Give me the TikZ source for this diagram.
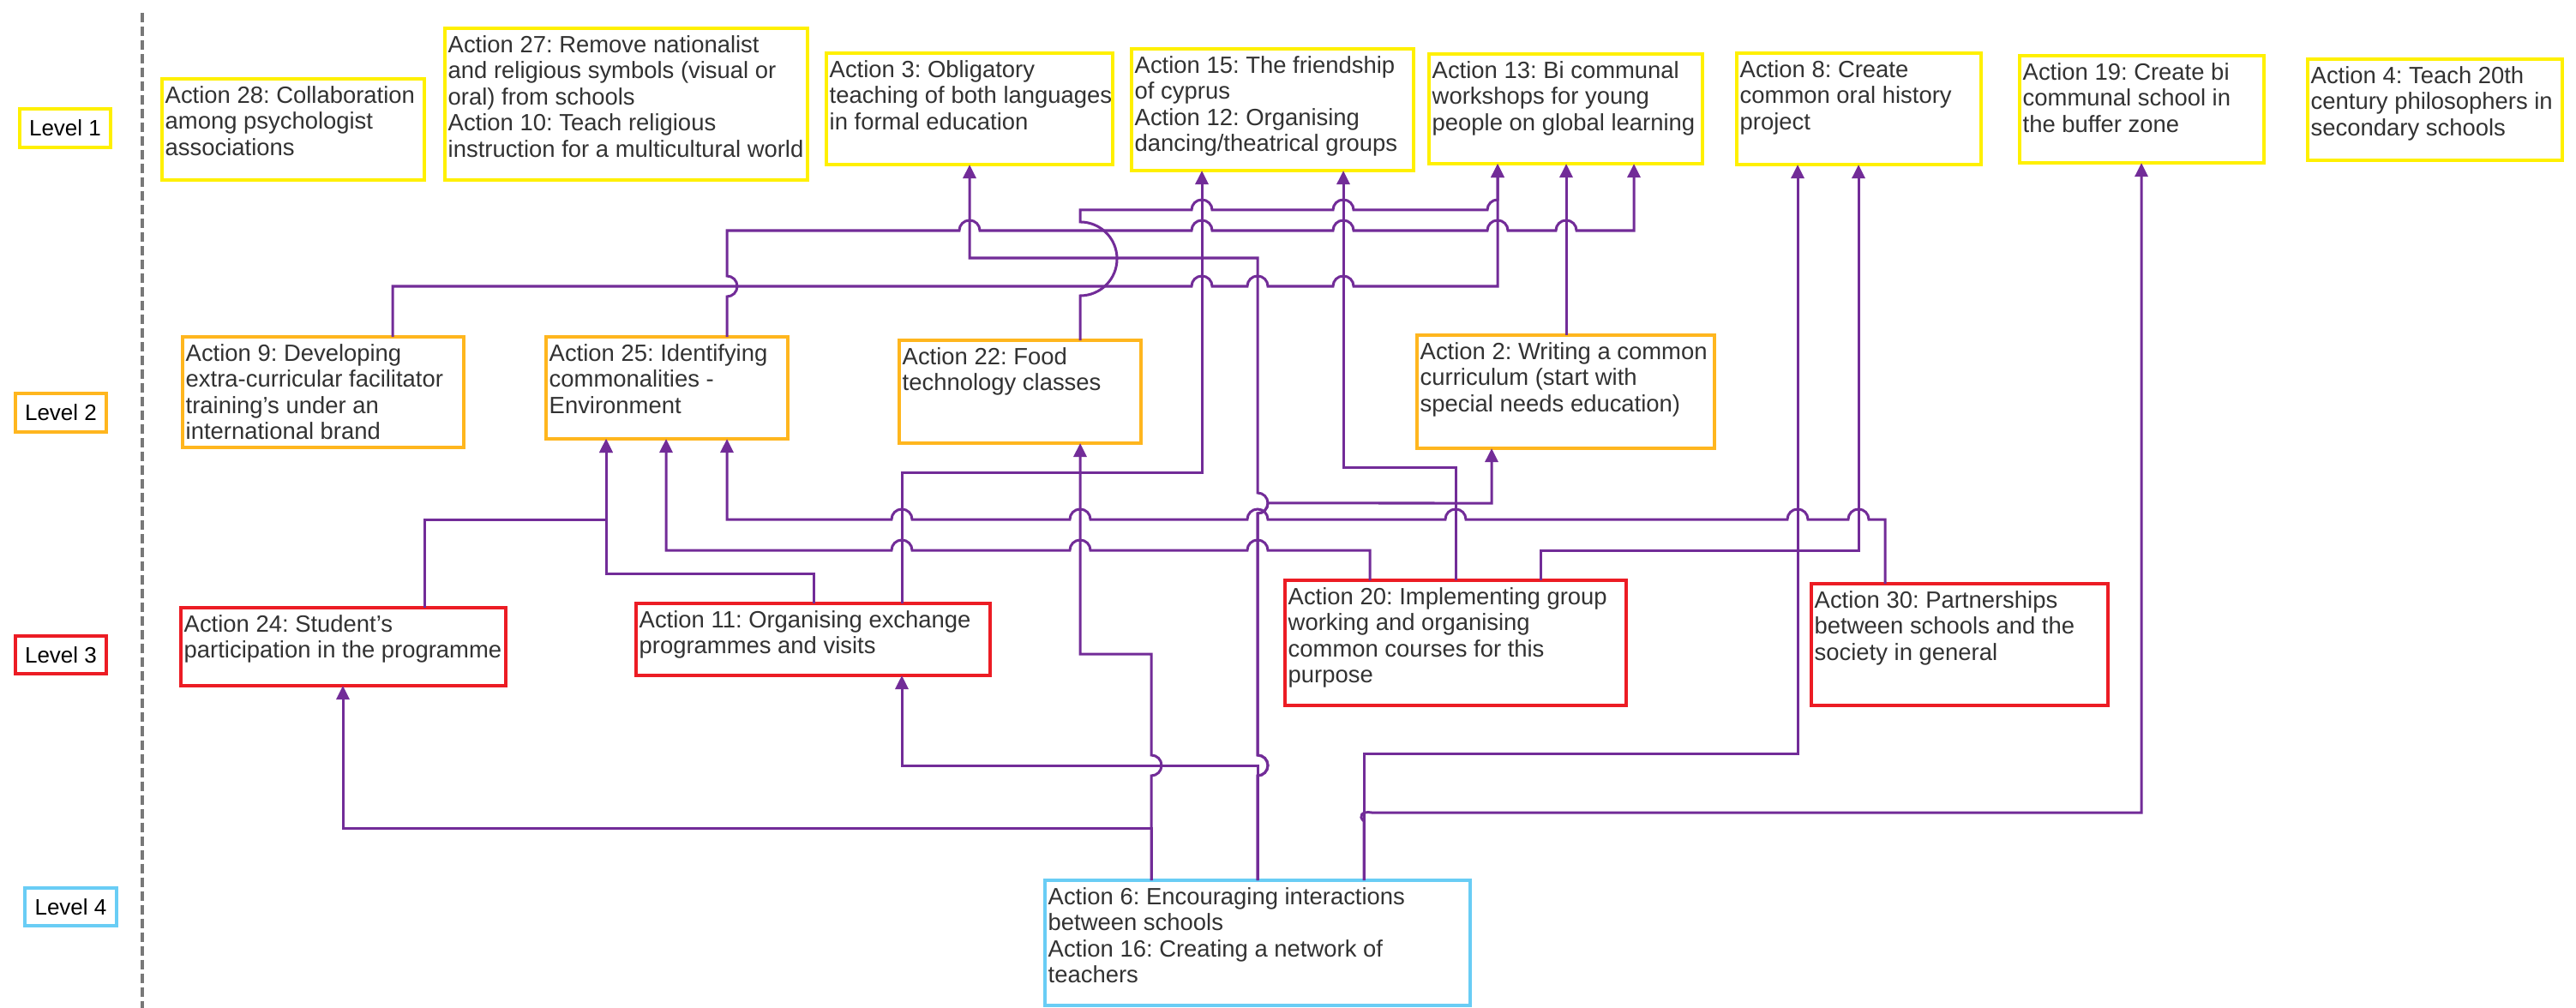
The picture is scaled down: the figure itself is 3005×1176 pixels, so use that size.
\documentclass[tikz,border=0pt]{standalone}
\usepackage{fontspec}
\setmainfont{Liberation Sans}
\usetikzlibrary{arrows.meta}
\definecolor{lnk}{RGB}{114,44,152}
\definecolor{lvA}{RGB}{255,240,0}
\definecolor{lvB}{RGB}{255,182,30}
\definecolor{lvC}{RGB}{236,28,36}
\definecolor{lvD}{RGB}{105,205,245}
\definecolor{ink}{RGB}{50,50,50}
\definecolor{sep}{RGB}{120,120,120}
\frenchspacing

\begin{document}
\begin{tikzpicture}[x=0.01cm,y=-0.01cm,
  frame/.style={draw, line width=0.04cm, inner sep=0pt, outer sep=0pt, anchor=north west},
  lbl/.style={anchor=north west, align=left, inner xsep=0.03cm, inner ysep=0.075cm, text=ink,
               font=\fontsize{7.8pt}{8.7pt}\selectfont},
  lvl/.style={draw, line width=0.035cm, inner sep=0pt, outer sep=0pt, text=black,
              font=\fontsize{7.4pt}{8.7pt}\selectfont},
  conn/.style={draw=lnk, line width=0.03cm, -{Triangle[length=0.16cm,width=0.15cm]}}
  ]
\fill[white] (0,0) rectangle (3005,1176);
\useasboundingbox (0,0) rectangle (3005,1176);

% level markers and separator
\node[lvl, draw=lvA, minimum width=1.06cm, minimum height=0.45cm] (lv1) at (76,149.5) {Level 1};
\node[lvl, draw=lvB, minimum width=1.06cm, minimum height=0.45cm] (lv2) at (71,481.5) {Level 2};
\node[lvl, draw=lvC, minimum width=1.06cm, minimum height=0.44cm] (lv3) at (71,764) {Level 3};
\node[lvl, draw=lvD, minimum width=1.07cm, minimum height=0.44cm] (lv4) at (82.5,1058) {Level 4};
\draw[sep, line width=0.032cm, dash pattern=on 0.11cm off 0.05cm] (166,15) -- (166,1176);

% level 1 actions
\node[frame, draw=lvA, minimum width=3.06cm, minimum height=1.18cm] (a28) at (189,92) {};
\node[lbl] (a28t) at (a28.north west) {Action 28: Collaboration\\among psychologist\\associations};
\node[frame, draw=lvA, minimum width=4.23cm, minimum height=1.77cm] (a27) at (519,33) {};
\node[lbl] (a27t) at (a27.north west) {Action 27: Remove nationalist\\and religious symbols (visual or\\oral) from schools\\Action 10: Teach religious\\instruction for a multicultural world};
\node[frame, draw=lvA, minimum width=3.34cm, minimum height=1.30cm] (a3) at (964,62) {};
\node[lbl] (a3t) at (a3.north west) {Action 3: Obligatory\\teaching of both languages\\in formal education};
\node[frame, draw=lvA, minimum width=3.29cm, minimum height=1.42cm] (a15) at (1320,57) {};
\node[lbl] (a15t) at (a15.north west) {Action 15: The friendship\\of cyprus\\Action 12: Organising\\dancing/theatrical groups};
\node[frame, draw=lvA, minimum width=3.19cm, minimum height=1.28cm] (a13) at (1667,63) {};
\node[lbl] (a13t) at (a13.north west) {Action 13: Bi communal\\workshops for young\\people on global learning};
\node[frame, draw=lvA, minimum width=2.85cm, minimum height=1.30cm] (a8) at (2026,62) {};
\node[lbl] (a8t) at (a8.north west) {Action 8: Create\\common oral history\\project};
\node[frame, draw=lvA, minimum width=2.85cm, minimum height=1.25cm] (a19) at (2356,65) {};
\node[lbl] (a19t) at (a19.north west) {Action 19: Create bi\\communal school in\\the buffer zone};
\node[frame, draw=lvA, minimum width=2.97cm, minimum height=1.18cm] (a4) at (2692,69) {};
\node[lbl] (a4t) at (a4.north west) {Action 4: Teach 20th\\century philosophers in\\secondary schools};

% level 2 actions
\node[frame, draw=lvB, minimum width=3.28cm, minimum height=1.29cm] (a9) at (213,393) {};
\node[lbl] (a9t) at (a9.north west) {Action 9: Developing\\extra-curricular facilitator\\training's under an\\international brand};
\node[frame, draw=lvB, minimum width=2.82cm, minimum height=1.19cm] (a25) at (637,393) {};
\node[lbl] (a25t) at (a25.north west) {Action 25: Identifying\\commonalities -\\Environment};
\node[frame, draw=lvB, minimum width=2.82cm, minimum height=1.20cm] (a22) at (1049,397) {};
\node[lbl] (a22t) at (a22.north west) {Action 22: Food\\technology classes};
\node[frame, draw=lvB, minimum width=3.47cm, minimum height=1.32cm] (a2) at (1653,391) {};
\node[lbl] (a2t) at (a2.north west) {Action 2: Writing a common\\curriculum (start with\\special needs education)};

% level 3 actions
\node[frame, draw=lvC, minimum width=3.79cm, minimum height=0.91cm] (a24) at (211,709) {};
\node[lbl] (a24t) at (a24.north west) {Action 24: Student's\\participation in the programme};
\node[frame, draw=lvC, minimum width=4.13cm, minimum height=0.84cm] (a11) at (742,704) {};
\node[lbl] (a11t) at (a11.north west) {Action 11: Organising exchange\\programmes and visits};
\node[frame, draw=lvC, minimum width=3.98cm, minimum height=1.46cm] (a20) at (1499,677) {};
\node[lbl] (a20t) at (a20.north west) {Action 20: Implementing group\\working and organising\\common courses for this\\purpose};
\node[frame, draw=lvC, minimum width=3.46cm, minimum height=1.42cm] (a30) at (2113,681) {};
\node[lbl] (a30t) at (a30.north west) {Action 30: Partnerships\\between schools and the\\society in general};

% level 4 action
\node[frame, draw=lvD, minimum width=4.96cm, minimum height=1.46cm] (a6) at (1219,1027) {};
\node[lbl] (a6t) at (a6.north west) {Action 6: Encouraging interactions\\between schools\\Action 16: Creating a network of\\teachers};

% connectors into level 1
\draw[conn] (a9.north -| 458,0) -- (458,334) -- (1390,334)
  arc[start angle=180,end angle=0,radius=0.12cm] -- (1455,334)
  arc[start angle=180,end angle=0,radius=0.12cm] -- (1555,334)
  arc[start angle=180,end angle=0,radius=0.12cm] -- (1747,334) -- (a13.south -| 1747,0);
\draw[conn] (a25.north -| 848,0) -- (848,346)
  arc[start angle=-90,end angle=90,radius=0.12cm] -- (848,269) -- (1119,269)
  arc[start angle=180,end angle=0,radius=0.12cm] -- (1390,269)
  arc[start angle=180,end angle=0,radius=0.12cm] -- (1555,269)
  arc[start angle=180,end angle=0,radius=0.12cm] -- (1735,269)
  arc[start angle=180,end angle=0,radius=0.12cm] -- (1815,269)
  arc[start angle=180,end angle=0,radius=0.12cm] -- (1906,269) -- (a13.south -| 1906,0);
\draw[conn] (a22.north -| 1260,0) -- (1260,345)
  arc[start angle=-90,end angle=90,radius=0.43cm] -- (1260,245) -- (1390,245)
  arc[start angle=180,end angle=0,radius=0.12cm] -- (1555,245)
  arc[start angle=180,end angle=0,radius=0.12cm] -- (1735,245)
  arc[start angle=180,end angle=90,radius=0.12cm] -- (a13.south -| 1747,0);
\draw[conn] (a2.north -| 1827,0) -- (a13.south -| 1827,0);
\draw[conn] (a6.north -| 1467,0) -- (1467,905)
  arc[start angle=-90,end angle=90,radius=0.12cm] -- (1467,599)
  arc[start angle=-90,end angle=90,radius=0.12cm] -- (1467,301) -- (1131,301) -- (a3.south -| 1131,0);
\draw[conn] (a11.north -| 1052,0) -- (1052,551) -- (1402,551) -- (a15.south -| 1402,0);
\draw[conn] (a20.north -| 1698,0) -- (1698,545) -- (1567,545) -- (a15.south -| 1567,0);
\draw[conn] (a20.north -| 1797,0) -- (1797,642) -- (2168,642) -- (a8.south -| 2168,0);
\draw[conn] (a6.north -| 1591,0) -- (1591,879) -- (2097,879) -- (a8.south -| 2097,0);
\draw[conn] (a6.north -| 1591,0) -- (1591,958) .. controls (1584,952) and (1589,946) .. (1600,948)
  -- (2498,948) -- (a19.south -| 2498,0);

% connectors into level 2
\draw[conn] (a6.north -| 1467,0) -- (1467,905)
  arc[start angle=-90,end angle=90,radius=0.12cm] -- (1467,599)
  arc[start angle=-90,end angle=0,radius=0.12cm] -- (1740,587) -- (a2.south -| 1740,0);
\draw[conn] (a24.north -| 495,0) -- (495,606) -- (707,606) -- (a25.south -| 707,0);
\draw[conn] (a11.north -| 949,0) -- (949,669) -- (707,669) -- (a25.south -| 707,0);
\draw[conn] (a20.north -| 1598,0) -- (1598,642) -- (1479,642)
  arc[start angle=0,end angle=180,radius=0.12cm] -- (1272,642)
  arc[start angle=0,end angle=180,radius=0.12cm] -- (1064,642)
  arc[start angle=0,end angle=180,radius=0.12cm] -- (777,642) -- (a25.south -| 777,0);
\draw[conn] (a30.north -| 2199,0) -- (2199,606) -- (2180,606)
  arc[start angle=0,end angle=180,radius=0.12cm] -- (2109,606)
  arc[start angle=0,end angle=180,radius=0.12cm] -- (1710,606)
  arc[start angle=0,end angle=180,radius=0.12cm] -- (1479,606)
  arc[start angle=0,end angle=180,radius=0.12cm] -- (1272,606)
  arc[start angle=0,end angle=180,radius=0.12cm] -- (1064,606)
  arc[start angle=0,end angle=180,radius=0.12cm] -- (848,606) -- (a25.south -| 848,0);
\draw[conn] (a6.north -| 1343,0) -- (1343,905)
  arc[start angle=-90,end angle=90,radius=0.12cm] -- (1343,763) -- (1260,763) -- (a22.south -| 1260,0);

% connectors into level 3
\draw[conn] (a6.north -| 1343,0) -- (1343,966) -- (400,966) -- (a24.south -| 400,0);
\draw[conn] (a6.north -| 1467,0) -- (1467,893) -- (1052,893) -- (a11.south -| 1052,0);
\end{tikzpicture}
\end{document}
